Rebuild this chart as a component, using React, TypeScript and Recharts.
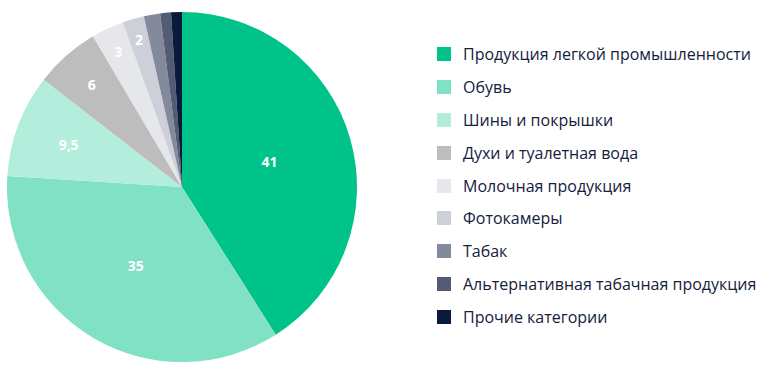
import { PieChart, Pie, Cell, Legend } from 'recharts'

const categories = [
  'Продукция легкой промышленности',
  'Обувь',
  'Шины и покрышки',
  'Духи и туалетная вода',
  'Молочная продукция',
  'Фотокамеры',
  'Табак',
  'Альтернативная табачная продукция',
  'Прочие категории',
]
const values = [41, 35, 9.5, 6, 3, 2, 1.5, 1, 1]
const colors = ['#00C389', '#80E1C4', '#B3EDDC', '#BDBDBD', '#E6E7EB', '#CDD0D8', '#838A9C', '#535C73', '#0A1A3A']

const data = categories.map((name, i) => ({ name, value: values[i] }))

const RAD = Math.PI / 180

// small slices get their label pushed towards the rim
const renderLabel = (props: any) => {
  const { cx, cy, midAngle, outerRadius, percent, value } = props
  if (value < 2) return null
  const k = Math.max(0.52, 0.93 - 2.5 * percent)
  const r = outerRadius * k
  const x = cx + r * Math.cos(-midAngle * RAD)
  const y = cy + r * Math.sin(-midAngle * RAD)
  return (
    <text x={x} y={y} fill="#fff" fontSize={14} fontWeight={700} textAnchor="middle" dominantBaseline="central">
      {String(value).replace('.', ',')}
    </text>
  )
}

const renderLegend = () => (
  <div style={{ display: 'flex', flexDirection: 'column' }}>
    {data.map((d, i) => (
      <div key={d.name} style={{ display: 'flex', alignItems: 'center', height: 32.8 }}>
        <span style={{ width: 14, height: 14, background: colors[i], marginRight: 12, flexShrink: 0 }} />
        <span style={{ fontSize: 16, color: '#14213D', whiteSpace: 'nowrap' }}>{d.name}</span>
      </div>
    ))}
  </div>
)

export default function App() {
  return (
    <div style={{ position: 'absolute', left: 0, top: 0, fontFamily: '"Open Sans", sans-serif' }}>
      <PieChart width={775} height={374} margin={{ top: 0, right: 0, bottom: 0, left: 0 }}>
        <Pie
          data={data}
          dataKey="value"
          nameKey="name"
          cx={182}
          cy={187}
          outerRadius={175}
          startAngle={90}
          endAngle={-270}
          stroke="none"
          label={renderLabel}
          labelLine={false}
          isAnimationActive={false}
        >
          {data.map((d, i) => (
            <Cell key={d.name} fill={colors[i]} />
          ))}
        </Pie>
        <Legend
          layout="vertical"
          align="right"
          verticalAlign="top"
          content={renderLegend}
          wrapperStyle={{ left: 437, top: 38, width: 338 }}
        />
      </PieChart>
    </div>
  )
}
